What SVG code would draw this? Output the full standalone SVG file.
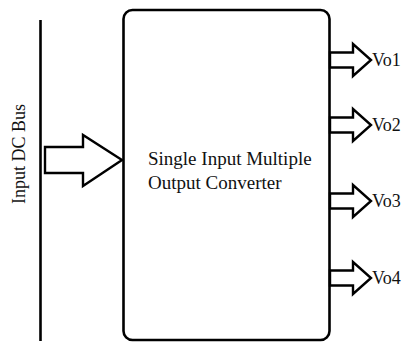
<svg xmlns="http://www.w3.org/2000/svg" width="408" height="343" viewBox="0 0 408 343">
  <style>
    .ln { fill: none; stroke: #000; stroke-width: 2.6; }
    .arrow { fill: #fff; stroke: #000; stroke-width: 2.4; stroke-linejoin: miter; }
    .txt { font-family: "Liberation Serif", "Times New Roman", serif; fill: #111; }
    .vo { font-size: 18px; }
  </style>

  <!-- input DC bus -->
  <g id="bus">
    <line class="ln" x1="40.5" y1="20" x2="40.5" y2="341" stroke-width="3"/>
    <text class="txt" font-size="18" transform="translate(25,154) rotate(-90)" text-anchor="middle" fill="#1c2440">Input DC Bus</text>
  </g>

  <!-- converter block -->
  <g id="converter">
    <rect class="ln" x="123.5" y="10" width="206" height="330" rx="9" ry="9"/>
    <text class="txt" font-size="19" x="148" y="165">Single Input Multiple</text>
    <text class="txt" font-size="19" x="148" y="189">Output Converter</text>
  </g>

  <!-- power flow arrows -->
  <g id="connectors">
    <polygon class="arrow" points="45,147 83,147 83,135 122,160 83,186 83,173 45,173"/>
    <polygon class="arrow" points="330,52.5 353,52.5 353,44 371,60 353,76 353,67.5 330,67.5"/>
    <polygon class="arrow" points="330,117.5 353,117.5 353,109 371,125 353,141 353,132.5 330,132.5"/>
    <polygon class="arrow" points="330,193.5 353,193.5 353,185 371,201 353,217 353,208.5 330,208.5"/>
    <polygon class="arrow" points="330,270.5 353,270.5 353,262 371,278 353,294 353,285.5 330,285.5"/>
  </g>

  <g id="out1"><text class="txt vo" x="372" y="66">Vo1</text></g>
  <g id="out2"><text class="txt vo" x="372" y="131">Vo2</text></g>
  <g id="out3"><text class="txt vo" x="372" y="207">Vo3</text></g>
  <g id="out4"><text class="txt vo" x="372" y="284">Vo4</text></g>
</svg>
